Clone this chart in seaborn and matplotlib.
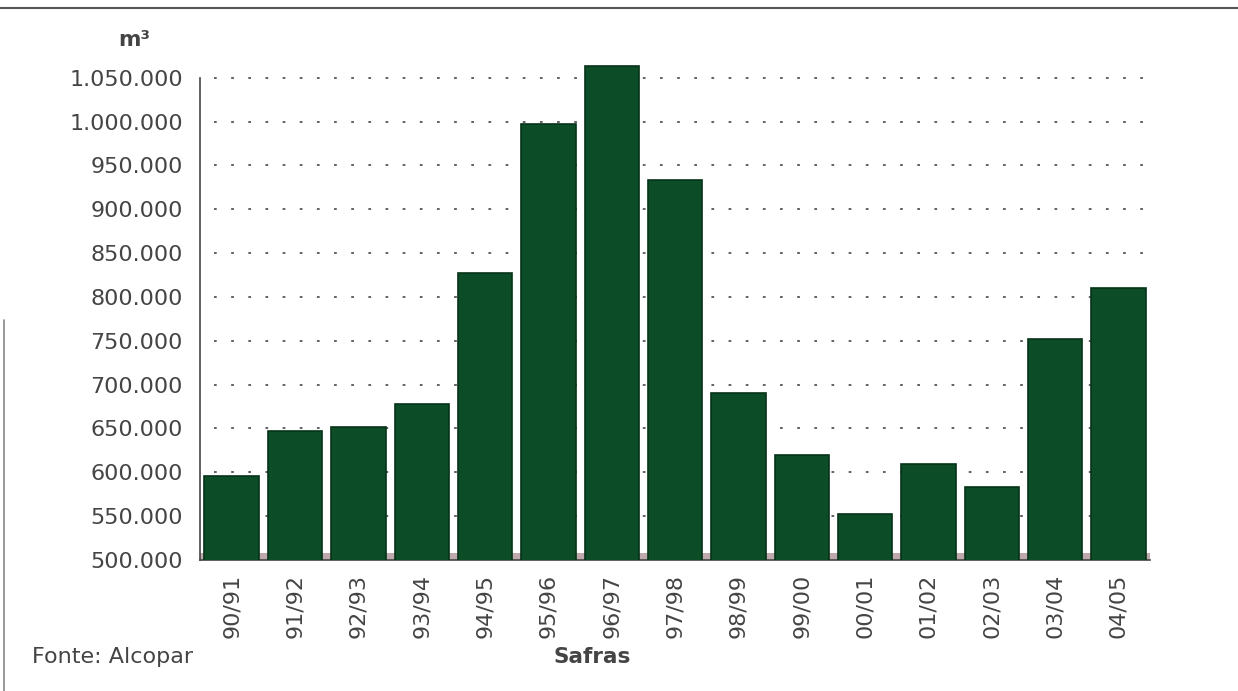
import matplotlib
matplotlib.use("Agg")
import matplotlib.pyplot as plt
from matplotlib.lines import Line2D
from matplotlib.ticker import FuncFormatter, FixedLocator
import seaborn as sns
import pandas as pd

# Produção de álcool por safra (m³)
safras = ["90/91", "91/92", "92/93", "93/94", "94/95", "95/96", "96/97", "97/98",
          "98/99", "99/00", "00/01", "01/02", "02/03", "03/04", "04/05"]
volumes = [596000, 647000, 652000, 678000, 827000, 997000, 1064000, 933000,
           690000, 620000, 553000, 609000, 583000, 752000, 810000]
y_ticks = list(range(500000, 1050001, 50000))

df = pd.DataFrame({"safra": safras, "volume": volumes})

sns.set_style("white")
plt.rcParams["font.family"] = ["DejaVu Sans"]

fig = plt.figure(figsize=(12.38, 6.91), dpi=100)
ax = fig.add_axes([0.1616, 0.1896, 0.7674, 0.7308])

# floor of the chart
ax.axhspan(500000, 508000, color="#8a6468", alpha=0.55, zorder=1, lw=0)

sns.barplot(data=df, x="safra", y="volume", color="#0c4d28", width=0.86,
            saturation=1, edgecolor="#063318", linewidth=1.2, ax=ax, zorder=3)

ax.set_ylim(500000, 1076000)
ax.set_xlim(-0.5, len(safras) - 0.5)
ax.set_yticks(y_ticks)
ax.yaxis.set_major_formatter(FuncFormatter(lambda v, p: f"{int(v):,}".replace(",", ".")))
for v in y_ticks[1:]:
    ax.axhline(v, xmin=0.015, xmax=1.005, color="#555555", lw=1.3,
               ls=(0, (1.5, 8)), zorder=0, clip_on=False)

ax.xaxis.set_minor_locator(FixedLocator([i + 0.5 for i in range(len(safras))]))
ax.tick_params(axis="x", which="major", length=0, pad=10, labelrotation=90,
               labelsize=16, labelcolor="#444444")
ax.tick_params(axis="x", which="minor", length=9, width=1.2, color="#444444",
               direction="out")
ax.tick_params(axis="y", length=9, width=1.2, color="#444444", direction="inout",
               labelsize=16, labelcolor="#444444", pad=8)

for side in ["top", "right"]:
    ax.spines[side].set_visible(False)
for side in ["left", "bottom"]:
    ax.spines[side].set_color("#444444")
    ax.spines[side].set_linewidth(1.2)
ax.spines["left"].set_bounds(500000, 1050000)

ax.set_xlabel("")
ax.set_ylabel("")

fig.text(134 / 1238, 1 - 40 / 691, "m³", fontsize=15.5, fontweight="bold",
         color="#444444", ha="center", va="center")
fig.text(592 / 1238, 1 - 657 / 691, "Safras", fontsize=15.5, fontweight="bold",
         color="#444444", ha="center", va="center")
fig.text(32 / 1238, 1 - 657 / 691, "Fonte: Alcopar", fontsize=16,
         color="#444444", ha="left", va="center")

# frame lines of the page
fig.add_artist(Line2D([0, 1], [1 - 8 / 691, 1 - 8 / 691], color="#555555", lw=1.5))
fig.add_artist(Line2D([4 / 1238, 4 / 1238], [0, 1 - 320 / 691], color="#888888", lw=1.2))

fig.savefig("out.png", dpi=100)
